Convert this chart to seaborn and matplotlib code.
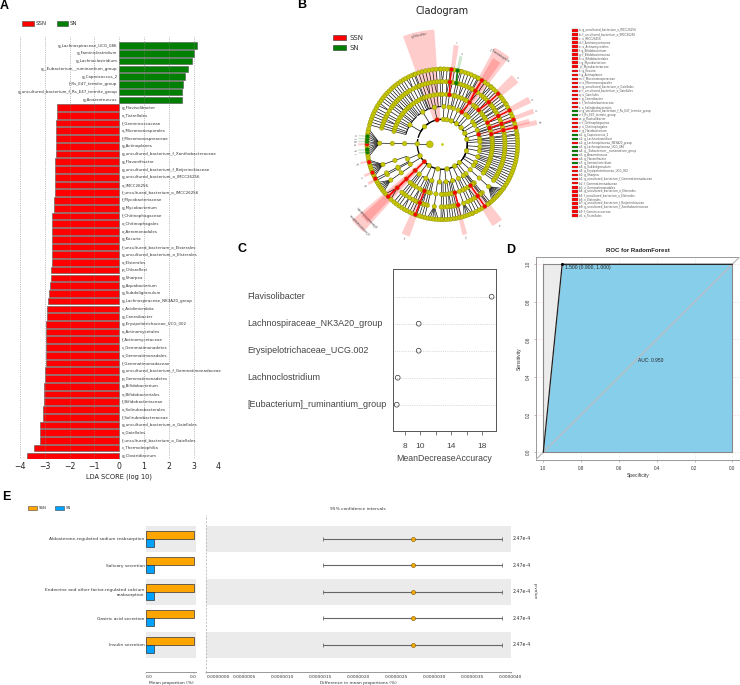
import numpy as np
import pandas as pd
import matplotlib
matplotlib.use("Agg")
import matplotlib.pyplot as plt
from matplotlib.collections import LineCollection
from matplotlib.patches import Wedge, Rectangle
import seaborn as sns

sns.set_style("white")
plt.rcParams['font.family'] = ['DejaVu Sans']

W, H = 740, 685

# ---------- Panel A data
sn_names = ["g_Lachnospiraceae_UCG_086", "g_Faminiclostridium", "g_Lachnoclostridium",
            "g__Eubacterium__ruminantium_group", "g_Caproicoccus_2", "f_Rs_E47_termite_group",
            "g_uncultured_bacterium_f_Rs_E47_termite_group", "g_Anaerotruncus"]
sn_scores = [3.15, 3.03, 2.95, 2.76, 2.63, 2.55, 2.53, 2.52]
ssn_names = ["g_Flavisolibacter", "o_Tistrellales", "f_Geminicoccaceae", "o_Micromonosporales",
             "f_Micromonosporaceae", "g_Actinoplanes", "g_uncultured_bacterium_f_Xanthobacteraceae",
             "g_Flavonifractor", "g_uncultured_bacterium_f_Beijerinckiaceae",
             "g_uncultured_bacterium_o_IMCC26256", "o_IMCC26256", "f_uncultured_bacterium_o_IMCC26256",
             "f_Mycobacteriaceae", "g_Mycobacterium", "f_Chitinophagaceae", "o_Chitinophagales",
             "o_Aeromonadales", "g_Kocuria", "f_uncultured_bacterium_o_Elsterales",
             "g_uncultured_bacterium_o_Elsterales", "o_Elsterales", "p_Chloroflexi", "g_Sharpea",
             "g_Aquabacterium", "g_Subdoligranulum", "g_Lachnospiraceae_NK3A20_group", "c_Acidimicrobiia",
             "g_Canesibacter", "g_Erysipelotrichaceae_UCG_002", "o_Actinomycetales", "f_Actinomycetaceae",
             "c_Gemmatimonadetes", "o_Gemmatimonadales", "f_Gemmatimonadaceae",
             "g_uncultured_bacterium_f_Gemmatimonadaceae", "p_Gemmatimonadetes", "g_Bifidobacterium",
             "o_Bifidobacteriales", "f_Bifidobacteriaceae", "o_Solirubrobacterales", "f_Solirubrobacteraceae",
             "g_uncultured_bacterium_o_Gaiellales", "o_Gaiellales", "f_uncultured_bacterium_o_Gaiellales",
             "c_Thermoleophilia", "g_Clostridiaceum"]
ssn_scores = [2.51, 2.51, 2.53, 2.56, 2.56, 2.56, 2.56, 2.58, 2.59, 2.59, 2.60, 2.60, 2.63, 2.63,
              2.70, 2.70, 2.71, 2.71, 2.72, 2.72, 2.72, 2.74, 2.75, 2.78, 2.84, 2.87, 2.92, 2.92,
              2.94, 2.94, 2.94, 2.96, 2.96, 2.96, 2.98, 3.00, 3.05, 3.05, 3.05, 3.06, 3.06, 3.21,
              3.21, 3.21, 3.45, 3.73]

# ---------- Panel B data
# tree: each phylum spans an arc; classes > orders > families (genus count)
S, D, T = [1], [1, 1], [2]
tree_spans = [(165, 112), (111, 92), (91, 84), (83, 76), (75, 62), (61, 50), (49, 33), (32, 19), (18, 8),
              (7, -35), (-36, -52), (-53, -66), (-67, -90), (-91, -110), (-111, -130), (-133, -139),
              (-141, -168), (-170, -192)]
tree_shapes = [
    [[S, S, S, D, S, S, T, S, S, D, S, S], [S, S, D, S, T, S, S]],
    [[S, S, D, S, D, S]],
    [[T, D]],
    [[D, T]],
    [[S, D], [S, D]],
    [[S, D], [T]],
    [[S, S, D], [S, D, S]],
    [[S, S], [D, S, S]],
    [[S, S, D], [S]],
    [[S, S, S, S], [S, S, S], [S, S, D], [S, S, S, S], [D, S, S], [S, S]],
    [[[9]], [S, S]],
    [[S, S, D], [S, S]],
    [[[4], S, S], [S, D, S, T]],
    [[S, [5]], [S, S, D]],
    [[S, S, D, T], [S, S, S]],
    [[[3]]],
    [[[6], S], [S, [9]]],
    [[[12]]],
]
ring_radii = [12.5, 25.0, 37.7, 50.0, 62.7, 75.3]
hl_angle = [102, 82, 78, 57, 57, 42, 27, 20, 13, 15, -136, -136, -112, -76, -55,
            180, 193, 202, 208, 174, 176, 178, 184, 186]
hl_from = [1, 3, 4, 2, 3, 3, 3, 3, 3, 2, 1, 2, 3, 3, 3, 5, 5, 5, 5, 5, 5, 5, 5, 5]
hl_to = [1, 5, 5, 5, 5, 5, 5, 5, 5, 2, 5, 5, 5, 4, 5, 5, 5, 5, 5, 5, 5, 5, 5, 5]
hl_group = ["SSN", "SSN", "SN", "SSN", "SSN", "SSN", "SSN", "SSN", "SSN", "SSN", "SSN", "SSN", "SSN",
            "SSN", "SSN", "SSN", "SSN", "SSN", "SSN", "SN", "SN", "SN", "SN", "SN"]
hl_width = [16, 3, 2, 9, 5, 6, 4, 3, 3, 3, 8, 5, 5, 3, 7, 1.5, 1.5, 2, 2, 1, 1, 1, 1, 1]
hl_outer = [115, 100, 90, 110, 100, 98, 98, 97, 97, 90, 118, 108, 98, 93, 96, 84, 84, 84, 84, 84, 84, 84, 84, 84]
hl_label = ["p_Chloroflexi", "r", "s", "c_Thermoleophilia", "", "t", "u", "v", "w", "", "c_Gemmatimonadetes",
            "p_Gemmatimonadetes", "x", "y", "z", "a", "b", "c", "d", "e", "f", "g", "h", "i"]

key_codes = ["a", "b", "c", "d", "e", "f", "g", "h", "i", "j", "k", "l", "m", "n", "o", "p", "q", "r", "s", "t",
             "u", "v", "w", "x", "y", "z", "a0", "a1", "a2", "a3", "a4", "a5", "a6", "a7", "a8", "a9",
             "b0", "b1", "b2", "b3", "b4", "b5", "b6", "b7", "b8", "b9", "c0", "c1", "c2"]
key_names = ["g_uncultured_bacterium_o_IMCC26256", "f_uncultured_bacterium_o_IMCC26256", "o_IMCC26256",
             "f_Actinomycetaceae", "o_Actinomycetales", "g_Bifidobacterium", "f_Bifidobacteriaceae",
             "o_Bifidobacteriales", "g_Mycobacterium", "f_Mycobacteriaceae", "g_Kocuria", "g_Actinoplanes",
             "f_Micromonosporaceae", "o_Micromonosporales", "g_uncultured_bacterium_o_Gaiellales",
             "f_uncultured_bacterium_o_Gaiellales", "o_Gaiellales", "g_Canesibacter", "f_Solirubrobacteraceae",
             "o_Solirubrobacterales", "g_uncultured_bacterium_f_Rs_E47_termite_group", "f_Rs_E47_termite_group",
             "g_Flavisolibacter", "f_Chitinophagaceae", "o_Chitinophagales", "g_Flavobacterium",
             "g_Caproicoccus_2", "g_Lachnoclostridium", "g_Lachnospiraceae_NK3A20_group",
             "g_Lachnospiraceae_UCG_086", "g__Eubacterium__ruminantium_group", "g_Anaerotruncus",
             "g_Flavonifractor", "g_Faminiclostridium", "g_Subdoligranulum", "g_Erysipelotrichaceae_UCG_002",
             "g_Sharpea", "g_uncultured_bacterium_f_Gemmatimonadaceae", "f_Gemmatimonadaceae",
             "o_Gemmatimonadales", "g_uncultured_bacterium_o_Elsterales", "f_uncultured_bacterium_o_Elsterales",
             "o_Elsterales", "g_uncultured_bacterium_f_Beijerinckiaceae",
             "g_uncultured_bacterium_f_Xanthobacteraceae", "f_Geminicoccaceae", "o_Tistrellales",
             "o_Aeromonadales", "g_Aquabacterium"]
key_groups = ["SSN"] * 20 + ["SN", "SN"] + ["SSN"] * 4 + ["SN", "SN", "SSN", "SN", "SN", "SN", "SSN", "SN"] + ["SSN"] * 13

# ---------- Panel C data
rf_names = ["Flavisolibacter", "Lachnospiraceae_NK3A20_group", "Erysipelotrichaceae_UCG.002",
            "Lachnoclostridium", "[Eubacterium]_ruminantium_group"]
rf_values = [19.2, 9.8, 9.8, 7.1, 6.97]

# ---------- Panel D data
roc_spec = [1.0, 0.9, 0.0]
roc_sens = [0.0, 1.0, 1.0]

# ---------- Panel E data
path_names = ["Aldosterone-regulated sodium reabsorption", "Salivary secretion",
              "Endocrine and other factor-regulated calcium\nreabsorption", "Gastric acid secretion",
              "Insulin secretion"]
path_ssn = [3.24e-6] * 5
path_sn = [0.52e-6] * 5
path_diff = [2.716e-6] * 5
path_low = [1.54e-6] * 5
path_high = [3.89e-6] * 5
path_p = ["2.47e-4"] * 5

RED, GREEN = "#ff0000", "#007f00"
YEL = "#c8c800"

fig = plt.figure(figsize=(W / 100, H / 100), dpi=100, facecolor="white")


def axpx(l, t, r, b):
    return fig.add_axes([l / W, 1 - b / H, (r - l) / W, (b - t) / H])


def tx(x, y, s, **kw):
    kw.setdefault("va", "center")
    return fig.text(x / W, 1 - y / H, s, **kw)


for x, y, s in zip([0, 297, 238, 506, 2], [6, 5.5, 249, 250, 497], "ABCDE"):
    tx(x, y, s, fontsize=9, fontweight="bold", family="Liberation Sans", color="black")

# ---------- A
ax = axpx(20, 37, 218.5, 459)
df_a = pd.DataFrame({
    "name": sn_names + ssn_names,
    "score": sn_scores + [-v for v in ssn_scores],
    "group": ["SN"] * len(sn_names) + ["SSN"] * len(ssn_names),
})
sns.barplot(data=df_a, y="name", x="score", hue="group", palette={"SN": GREEN, "SSN": RED}, saturation=1,
            dodge=False, width=0.86, edgecolor="#555555", linewidth=0.4, legend=False, ax=ax, zorder=2)
ax.set_xlim(-4, 4)
ax.set_ylim(53.4, -1.12)
ax.set_yticks([])
ax.set_xticks(range(-4, 5))
ax.tick_params(axis="x", labelsize=5.6, length=0, pad=2, colors="#222222")
ax.set_xlabel("LDA SCORE (log 10)", fontsize=4.8, labelpad=2.2, color="#222222")
ax.set_ylabel("")
sns.despine(ax=ax, left=True, bottom=True, top=True, right=True)
ax.grid(axis="x", color="#888888", linestyle=":", linewidth=0.5, zorder=3)
ax.set_axisbelow(False)
for i, (n, v) in enumerate(zip(df_a["name"], df_a["score"])):
    ax.text(-0.07 if v > 0 else 0.09, i, n, ha="right" if v > 0 else "left", va="center",
            fontsize=2.85, color="#333333", zorder=4)
for x0, x1, c, s in [(22, 34, RED, "SSN"), (57, 68, GREEN, "SN")]:
    fig.add_artist(Rectangle((x0 / W, 1 - 26 / H), (x1 - x0) / W, 5 / H, transform=fig.transFigure,
                             facecolor=c, edgecolor="#444444", linewidth=0.4))
    tx(x1 + 1.2, 23.5, s, fontsize=4.0, color="#333333")

# ---------- B
bx = axpx(300, 15, 570, 240)
cx_px, cy_px = 442.3, 144.3
bx.set_xlim(300 - cx_px, 570 - cx_px)
bx.set_ylim(cy_px - 240, cy_px - 15)
bx.axis("off")
tx(442, 10.5, "Cladogram", fontsize=7, ha="center", color="#222222")


def pol(level, ang):
    r = ring_radii[level]
    return r * np.cos(np.radians(ang)), r * np.sin(np.radians(ang))


def arc(level, a0, a1):
    t = np.radians(np.linspace(a0, a1, max(int(abs(a1 - a0)) + 2, 2)))
    return np.column_stack([ring_radii[level] * np.cos(t), ring_radii[level] * np.sin(t)])


nodes = [(0, 180.0, -1)]   # level, angle, parent
segs, arcs_thick, arcs_thin = [], [], []
leaf_ids = []
for (a0, a1), shape in zip(tree_spans, tree_shapes):
    n_leaf = sum(sum(fam) for cls in shape for fam in cls)
    leaf_ang = list(np.linspace(a0, a1, n_leaf))
    k = 0
    pid = len(nodes)
    nodes.append((1, 0.0, 0))
    class_angles = []
    for cls in shape:
        cid = len(nodes)
        nodes.append((2, 0.0, pid))
        order_angles = []
        for order in cls:
            oid = len(nodes)
            nodes.append((3, 0.0, cid))
            fam_angles = []
            for g in order:
                fid = len(nodes)
                nodes.append((4, 0.0, oid))
                gen = leaf_ang[k:k + g]
                k += g
                fa = float(np.mean(gen))
                nodes[fid] = (4, fa, oid)
                fam_angles.append(fa)
                for ga in gen:
                    leaf_ids.append(len(nodes))
                    nodes.append((5, float(ga), fid))
                    segs.append([pol(5, ga), pol(4, fa)])
            oa = float(np.mean(fam_angles))
            nodes[oid] = (3, oa, cid)
            order_angles.append(oa)
            for fa in fam_angles:
                segs.append([pol(4, fa), pol(3, oa)])
        ca = float(np.mean(order_angles))
        nodes[cid] = (2, ca, pid)
        class_angles.append(ca)
        if len(order_angles) > 1:
            arcs_thin.append(arc(2, min(order_angles), max(order_angles)))
        for oa in order_angles:
            segs.append([pol(3, oa), pol(2, oa)])
    pa = float(np.mean(class_angles))
    nodes[pid] = (1, pa, 0)
    if len(class_angles) > 1:
        arcs_thick.append(arc(1, min(class_angles), max(class_angles)))
    for ca in class_angles:
        segs.append([pol(2, ca), pol(1, ca)])
arcs_thick.append(arc(1, -192, 165))
segs.append([pol(0, 180), pol(1, 180)])

bx.add_collection(LineCollection(segs, colors="#111111", linewidths=0.5, zorder=2))
bx.add_collection(LineCollection(arcs_thick, colors="black", linewidths=1.0, zorder=2))
bx.add_collection(LineCollection(arcs_thin, colors="black", linewidths=0.7, zorder=2))

node_color = {}
for a, lf, lt, grp, wd, ou, lab in zip(hl_angle, hl_from, hl_to, hl_group, hl_width, hl_outer, hl_label):
    col = RED if grp == "SSN" else GREEN
    aa = ((a + 192) % 360) - 192
    leaf = min(leaf_ids, key=lambda n: abs(nodes[n][1] - aa))
    path = []
    n = leaf
    while n >= 0:
        path.append(n)
        n = nodes[n][2]
    chosen = [n for n in path if lf <= nodes[n][0] <= lt]
    for n in chosen:
        node_color[n] = col
    for n in chosen:
        p = nodes[n][2]
        if p in chosen:
            bx.plot(*zip(pol(nodes[n][0], nodes[n][1]), pol(nodes[p][0], nodes[p][1])),
                    color=col, lw=1.0, zorder=3)
    bx.add_patch(Wedge((0, 0), ou, a - wd / 2, a + wd / 2, width=ou - ring_radii[lf],
                       facecolor=col, alpha=0.2, linewidth=0, zorder=1))
    if lab:
        rr = ou - 4 if len(lab) > 3 else ou + 2
        tr = np.radians(a)
        bx.text(rr * np.cos(tr), rr * np.sin(tr), lab, fontsize=1.8, rotation=a - 90, rotation_mode="anchor",
                ha="center", va="center", color="#333333", zorder=5, clip_on=False)

df_nodes = pd.DataFrame(nodes, columns=["level", "angle", "parent"])
df_nodes["x"] = [pol(l, a)[0] for l, a in zip(df_nodes["level"], df_nodes["angle"])]
df_nodes["y"] = [pol(l, a)[1] for l, a in zip(df_nodes["level"], df_nodes["angle"])]
df_nodes["color"] = [node_color.get(i, YEL) for i in range(len(nodes))]
df_nodes["size"] = df_nodes["level"].map({0: 24, 1: 11, 2: 10.5, 3: 10, 4: 10, 5: 9.5})
for clr, z in [(YEL, 3), (RED, 4), (GREEN, 4)]:
    sub = df_nodes[df_nodes["color"] == clr]
    bx.scatter(sub["x"], sub["y"], s=sub["size"], c=clr, edgecolors="#8a8a10", linewidths=0.3,
               zorder=z, clip_on=False)
bx.plot([0], [0], marker="o", ms=0.9, color=YEL, zorder=4)

for y, c, s in [(37.5, RED, "SSN"), (47.5, GREEN, "SN")]:
    fig.add_artist(Rectangle((332.5 / W, 1 - (y + 2.5) / H), 13.5 / W, 5 / H, transform=fig.transFigure,
                             facecolor=c, edgecolor="#333333", linewidth=0.4))
    tx(349.5, y, s, fontsize=5, color="#333333")

key_y = np.linspace(30.5, 223.5, len(key_names))
for y, code, name, g in zip(key_y, key_codes, key_names, key_groups):
    fig.add_artist(Rectangle((572 / W, 1 - (y + 1.2) / H), 5.5 / W, 2.4 / H, transform=fig.transFigure,
                             facecolor=RED if g == "SSN" else GREEN, edgecolor="#666666", linewidth=0.2))
    tx(579, y, f"{code}: {name}", fontsize=1.95, color="#555555")

# ---------- C
cx = axpx(392.7, 269.3, 495.7, 430.7)
df_c = pd.DataFrame({"name": rf_names, "value": rf_values})
for spine in cx.spines.values():
    spine.set_color("#555555")
    spine.set_linewidth(0.7)
cx.grid(axis="y", color="#bbbbbb", linestyle=":", linewidth=0.5)
sns.scatterplot(data=df_c, x="value", y="name", facecolor="none", edgecolor="#333333", linewidth=0.5,
                s=12, ax=cx, legend=False, zorder=3, clip_on=False)
cx.set_xlim(8 - (404.7 - 392.7) / 7.76, 8 + (495.7 - 404.7) / 7.76)
cx.set_ylim((430.7 - 296.7) / 27, (269.3 - 296.7) / 27)
cx.set_yticks(range(5))
cx.set_yticklabels([])
cx.tick_params(axis="y", length=0)
cx.set_xticks([8, 10, 12, 14, 16, 18])
cx.set_xticklabels(["8", "10", "", "14", "", "18"], family="Liberation Sans")
cx.tick_params(axis="x", bottom=True, length=3, width=0.5, color="#444444", labelsize=6, labelcolor="#444444", pad=6)
cx.set_xlabel("MeanDecreaseAccuracy", fontsize=6.35, family="Liberation Sans", color="#444444", labelpad=2.5)
cx.set_ylabel("")
for i, n in enumerate(rf_names):
    cx.annotate(n, xy=(0, i), xycoords=("axes fraction", "data"), xytext=(247.5 - 392.7, 0),
                textcoords="offset pixels", ha="left", va="center", fontsize=6.5,
                family="Liberation Sans", color="#444444")

# ---------- D
dx = axpx(536, 256.7, 740, 460)
xs = 189.0
ys = 188.0
dx.set_xlim(1 + 7.3 / xs, 1 - (740 - 543.3) / xs)
dx.set_ylim(-(460 - 452.3) / ys, 1 + (264.3 - 256.7) / ys)
for spine in dx.spines.values():
    spine.set_color("#999999")
    spine.set_linewidth(0.7)
ticks = [0, 0.2, 0.4, 0.6, 0.8, 1.0]
dx.fill_between(roc_spec, 0, roc_sens, color="#87CEEB", linewidth=0, zorder=2)
dx.fill_between([1.0, 0.9], roc_sens[:2], 1, color="#ececec", linewidth=0, zorder=2)
for v in ticks:
    dx.axvline(v, color="#c4f0c4", lw=0.5, linestyle=":", zorder=1)
    dx.axhline(v, color="#f5c4c4", lw=0.5, linestyle=":", zorder=1)
dx.plot([1.04, -0.04], [-0.04, 1.04], color="#bbbbbb", lw=0.9, zorder=3)
dx.add_patch(Rectangle((0, 0), 1, 1, fill=False, edgecolor="#888888", lw=0.8, zorder=4))
df_d = pd.DataFrame({"spec": roc_spec, "sens": roc_sens})
sns.lineplot(data=df_d, x="spec", y="sens", sort=False, estimator=None, color="#222222", lw=0.9, ax=dx,
             zorder=5, legend=False)
dx.plot([0.9], [1.0], marker="o", ms=1.2, color="black", zorder=6)
dx.text(0.885, 0.985, "1.500 (0.900, 1.000)", fontsize=3.6, family="Liberation Sans", color="#222222",
        ha="left", va="center", zorder=6)
dx.text(0.43, 0.49, "AUC: 0.950", fontsize=3.5, family="Liberation Sans", color="#222222",
        ha="center", va="center", zorder=6)
dx.set_xticks(ticks)
dx.set_yticks(ticks)
dx.set_xticklabels(["0.0", "0.2", "0.4", "0.6", "0.8", "1.0"], family="Liberation Sans")
dx.set_yticklabels(["0.0", "0.2", "0.4", "0.6", "0.8", "1.0"], rotation=90, va="center", family="Liberation Sans")
dx.tick_params(axis="both", length=1.5, width=0.4, labelsize=3.3, labelcolor="#333333", color="#888888", pad=2.5)
dx.tick_params(axis="x", bottom=True)
dx.tick_params(axis="y", left=True)
dx.set_xlabel("Specificity", fontsize=3.6, family="Liberation Sans", color="#333333", labelpad=1.5)
dx.set_ylabel("Sensitivity", fontsize=3.6, family="Liberation Sans", color="#333333", labelpad=2.5)
tx(638, 250.5, "ROC for RadomForest", fontsize=4.3, fontweight="bold", family="Liberation Sans", ha="center",
   color="#222222")

# ---------- E
ea = axpx(146, 515, 196, 671.7)
eb = axpx(206.3, 515, 510.7, 671.7)
ylim = ((671.7 - 538.8) / 26.5, (515 - 538.8) / 26.5)
df_e = pd.DataFrame({
    "pathway": path_names * 2,
    "prop": path_ssn + path_sn,
    "group": ["SSN"] * 5 + ["SN"] * 5,
})
for axx in (ea, eb):
    for i in (0, 2, 4):
        axx.axhspan(i - 0.5, i + 0.5, color="#ebebeb", linewidth=0, zorder=0)
    axx.set_ylim(*ylim)
    sns.despine(ax=axx, left=True)
    axx.spines["bottom"].set_color("#999999")
    axx.spines["bottom"].set_linewidth(0.7)
    axx.tick_params(axis="x", labelsize=3.2, length=1.2, width=0.3, color="#888888", pad=1.2, labelcolor="#333333",
                    bottom=True)
sns.barplot(data=df_e, y="pathway", x="prop", hue="group", palette={"SSN": "#ffa500", "SN": "#00a2ff"},
            hue_order=["SSN", "SN"], width=0.6, gap=0, saturation=1, edgecolor="#333333", linewidth=0.5,
            legend=False, ax=ea, zorder=2)
ea.set_ylim(*ylim)
ea.set_xlim(0, 3.4e-6)
ea.set_xticks([0, 3.24e-6])
ea.set_xticklabels(["0.0", "0.0"])
ea.get_xticklabels()[0].set_ha("left")
ea.set_xlabel("Mean proportion (%)", fontsize=3.2, labelpad=1.2, color="#333333")
ea.set_ylabel("")
ea.tick_params(axis="y", length=0, labelsize=3.2, labelcolor="#333333", pad=1)
for lab in ea.get_yticklabels():
    lab.set_multialignment("right")

pos = np.arange(5)
df_eb = pd.DataFrame({"d": path_diff, "low": path_low, "high": path_high, "y": pos})
eb.hlines(df_eb["y"], df_eb["low"], df_eb["high"], color="#666666", lw=0.8, zorder=2)
for cap in ("low", "high"):
    eb.vlines(df_eb[cap], pos - 0.07, pos + 0.07, color="#555555", lw=0.5, zorder=2)
sns.scatterplot(data=df_eb, x="d", y="y", color="#ffa500", edgecolor="#665500", linewidth=0.35, s=9, ax=eb,
                zorder=3, legend=False)
eb.set_xlim(0, (510.7 - 206.3) / 76.1 * 1e-6)
eb.set_ylim(*ylim)
eb.set_yticks([])
xt = [i * 0.5e-6 for i in range(9)]
eb.set_xticks(xt)
eb.set_xticklabels([f"{v:.7f}" for v in xt])
eb.get_xticklabels()[0].set_ha("left")
eb.set_xlabel("Difference in mean proportions (%)", fontsize=3.2, labelpad=1.2, color="#333333")
eb.set_ylabel("")
eb.axvline(0, color="#aaaaaa", lw=0.5, linestyle=(0, (3, 2)), zorder=1)
for i, p in enumerate(path_p):
    eb.annotate(p, xy=(1, i), xycoords=("axes fraction", "data"), xytext=(2, 0), textcoords="offset pixels",
                fontsize=3.4, va="center", color="#333333")
tx(534.5, 591.5, "p-value", fontsize=3.2, rotation=270, ha="center", color="#333333")
tx(358, 508.5, "95% confidence intervals", fontsize=3.2, ha="center", color="#333333")
for x0, c, s in [(28, "#ffa500", "SSN"), (55, "#00a2ff", "SN")]:
    fig.add_artist(Rectangle((x0 / W, 1 - 510 / H), 9 / W, 4 / H, transform=fig.transFigure,
                             facecolor=c, edgecolor="#444444", linewidth=0.4))
    tx(x0 + 11, 508.2, s, fontsize=2.8, color="#333333")

fig.savefig("out.png", dpi=100, facecolor="white")
